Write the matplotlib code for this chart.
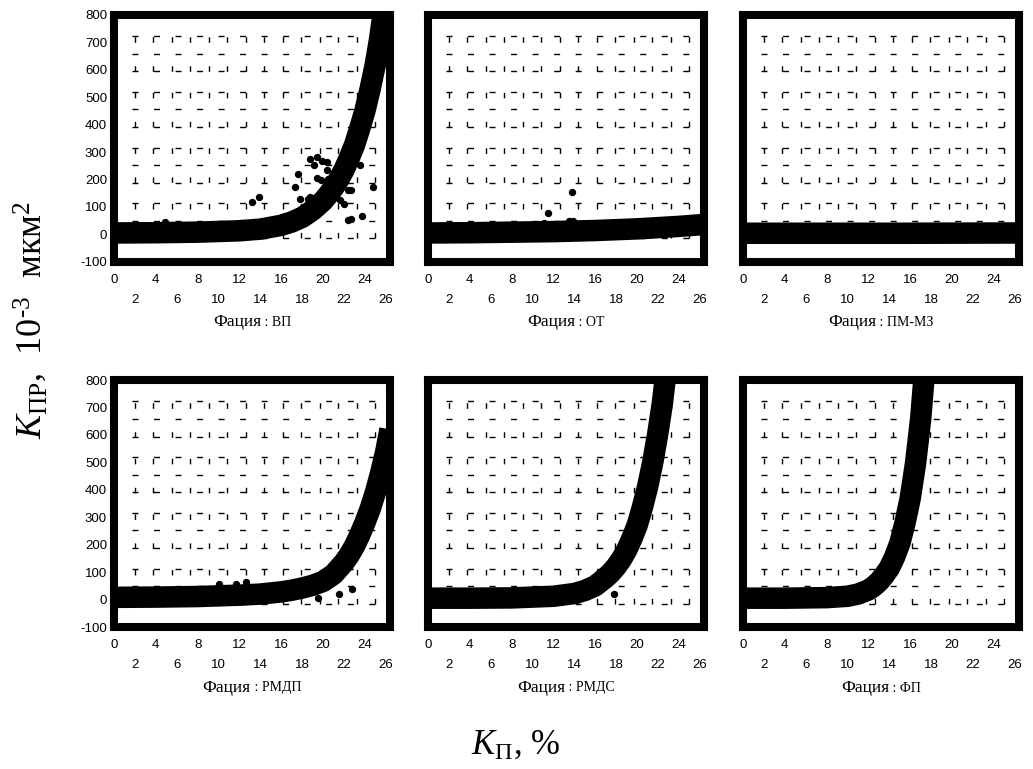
import numpy as np
import matplotlib
matplotlib.use("Agg")
import matplotlib.pyplot as plt

plt.rcParams["font.family"] = "Liberation Sans"
plt.rcParams["mathtext.fontset"] = "custom"
plt.rcParams["mathtext.rm"] = "Liberation Serif"
plt.rcParams["mathtext.it"] = "Liberation Serif:italic"

facies = ["ВП", "ОТ", "ПМ-МЗ", "РМДП", "РМДС", "ФП"]

# fitted curves
vp_curve_x = [0, 4, 8, 12, 14, 16, 17, 18, 19, 20, 20.5, 21, 21.5, 22, 22.5, 23, 23.5, 24, 24.5, 25, 25.4, 25.8]
vp_curve_y = [5, 6, 8, 13, 19, 33, 45, 62, 88, 122, 145, 170, 200, 235, 278, 325, 385, 450, 530, 620, 710, 820]
ot_curve_x = [0, 4, 8, 12, 16, 20, 24, 26.4]
ot_curve_y = [5, 6, 8, 10, 14, 20, 29, 36]
pmmz_curve_x = [0, 8, 16, 26.4]
pmmz_curve_y = [4, 4, 4, 5]
rmdp_curve_x = [0, 4, 8, 12, 14, 16, 17, 18, 19, 20, 21, 22, 22.5, 23, 23.5, 24, 24.5, 25, 25.5, 26, 26.4]
rmdp_curve_y = [8, 9, 11, 16, 20, 28, 34, 42, 52, 66, 92, 135, 162, 195, 235, 280, 330, 390, 460, 540, 620]
rmds_curve_x = [0, 4, 8, 12, 14, 15, 16, 17, 17.5, 18, 18.5, 19, 19.5, 20, 20.5, 21, 21.5, 22, 22.4, 22.8]
rmds_curve_y = [5, 5, 6, 12, 22, 33, 50, 80, 98, 120, 147, 180, 222, 270, 335, 410, 500, 610, 710, 840]
fp_curve_x = [0, 4, 8, 10, 11, 12, 12.5, 13, 13.5, 14, 14.5, 15, 15.5, 16, 16.5, 17, 17.4]
fp_curve_y = [5, 5, 7, 12, 20, 35, 48, 65, 88, 115, 155, 205, 280, 370, 495, 660, 850]

# observed points
vp_pts_x = [4.9, 12.1, 12.2, 13.2, 13.9, 14.2, 16.1, 17.3, 17.6, 17.8, 18.6, 18.7,
            18.7, 19.4, 19.1, 19.9, 20.4, 20.4, 19.4, 19.8, 20.5, 20.2, 21.6, 22.0,
            22.4, 22.7, 22.4, 22.7, 23.7, 23.5, 24.8]
vp_pts_y = [45, 41, 39, 118, 136, 41, 63, 173, 219, 130, 130, 136,
            274, 282, 254, 266, 264, 236, 205, 197, 203, 173, 124, 112,
            161, 163, 51, 57, 66, 252, 173]
ot_pts_x = [11.1, 11.5, 13.5, 13.8, 13.9, 14.1]
ot_pts_y = [41, 79, 47, 154, 47, 40]
pmmz_pts_x = []
pmmz_pts_y = []
rmdp_pts_x = [10.0, 11.7, 12.6, 12.9, 19.5, 21.5, 22.8]
rmdp_pts_y = [57, 57, 63, 39, 4, 21, 39]
rmds_pts_x = [17.8]
rmds_pts_y = [20]
fp_pts_x = []
fp_pts_y = []

curves = [(vp_curve_x, vp_curve_y), (ot_curve_x, ot_curve_y), (pmmz_curve_x, pmmz_curve_y),
          (rmdp_curve_x, rmdp_curve_y), (rmds_curve_x, rmds_curve_y), (fp_curve_x, fp_curve_y)]
points = [(vp_pts_x, vp_pts_y), (ot_pts_x, ot_pts_y), (pmmz_pts_x, pmmz_pts_y),
          (rmdp_pts_x, rmdp_pts_y), (rmds_pts_x, rmds_pts_y), (fp_pts_x, fp_pts_y)]

x_major = [0, 4, 8, 12, 16, 20, 24]
x_minor = [2, 6, 10, 14, 18, 22, 26]
y_ticks = [-100, 0, 100, 200, 300, 400, 500, 600, 700, 800]

W, H = 1033, 769
lefts = [114, 428, 743]
tops = [14.8, 380]
pw, ph = 276, 247
title_y = [322, 688]

fig = plt.figure(figsize=(W / 100, H / 100), dpi=100)
renderer = fig.canvas.get_renderer()

# background grid pattern (statistica style)
base = -15 + 203 * np.arange(4)
grid_rows = np.sort(np.concatenate([base, base + 64, base + 128]))
grid_cols = np.linspace(2, 25, 14)

for i, name in enumerate(facies):
    r, c = divmod(i, 3)
    ax = fig.add_axes([lefts[c] / W, 1 - (tops[r] + ph) / H, pw / W, ph / H])
    ax.set_xlim(0, 26.4)
    ax.set_ylim(-100, 800)

    ax.hlines(grid_rows, 1.7, 25.4, colors="black", linewidth=1,
              linestyles=[(0, (4.3, 11.2))], zorder=1)
    ax.vlines(grid_cols, -15, 740, colors="black", linewidth=1,
              linestyles=[(0, (4.0, 16.9, 4.0, 15.1))], zorder=1)

    cx, cy = curves[i]
    ax.plot(cx, cy, color="black", lw=15.5, solid_capstyle="butt",
            solid_joinstyle="round", zorder=3)
    px, py = points[i]
    if len(px):
        ax.scatter(px, py, s=28, color="black", zorder=4, linewidths=0)

    for s in ax.spines.values():
        s.set_linewidth(5.8)
        s.set_capstyle("projecting")
        s.set_zorder(5)

    ax.set_xticks(x_major)
    ax.set_xticklabels([str(v) for v in x_major])
    ax.set_xticks(x_minor, minor=True)
    ax.set_xticklabels([str(v) for v in x_minor], minor=True)
    ax.tick_params(axis="x", which="major", length=0, pad=9, labelsize=9.5)
    ax.tick_params(axis="x", which="minor", length=0, pad=23, labelsize=9.5)
    ax.set_yticks(y_ticks)
    if c == 0:
        ax.set_yticklabels([str(v) for v in y_ticks])
    else:
        ax.set_yticklabels([])
    ax.tick_params(axis="y", length=0, pad=5, labelsize=9.5)

    # facet title: "Фация" bigger, name smaller
    t1 = fig.text(0, 0, "Фация", family="Liberation Serif", size=12.5, va="center")
    t2 = fig.text(0, 0, " : " + name, family="Liberation Serif", size=10, va="center")
    w1 = t1.get_window_extent(renderer).width
    w2 = t2.get_window_extent(renderer).width
    cxp = lefts[c] + pw / 2
    x0 = cxp - (w1 + w2) / 2
    yy = 1 - title_y[r] / H
    t1.set_position((x0 / W, yy))
    t2.set_position(((x0 + w1) / W, yy))

fig.text(0.030, 0.584, r"$K_{\mathrm{ПР}}$,  10$^{\text{-3}}$  мкм$^{2}$", rotation=90,
         family="Liberation Serif", size=26, ha="center", va="center")
fig.text(0.4995, 0.031, r"$K_{\mathrm{П}}$, %", family="Liberation Serif", size=25,
         ha="center", va="center")

fig.savefig("out.png", dpi=100)
